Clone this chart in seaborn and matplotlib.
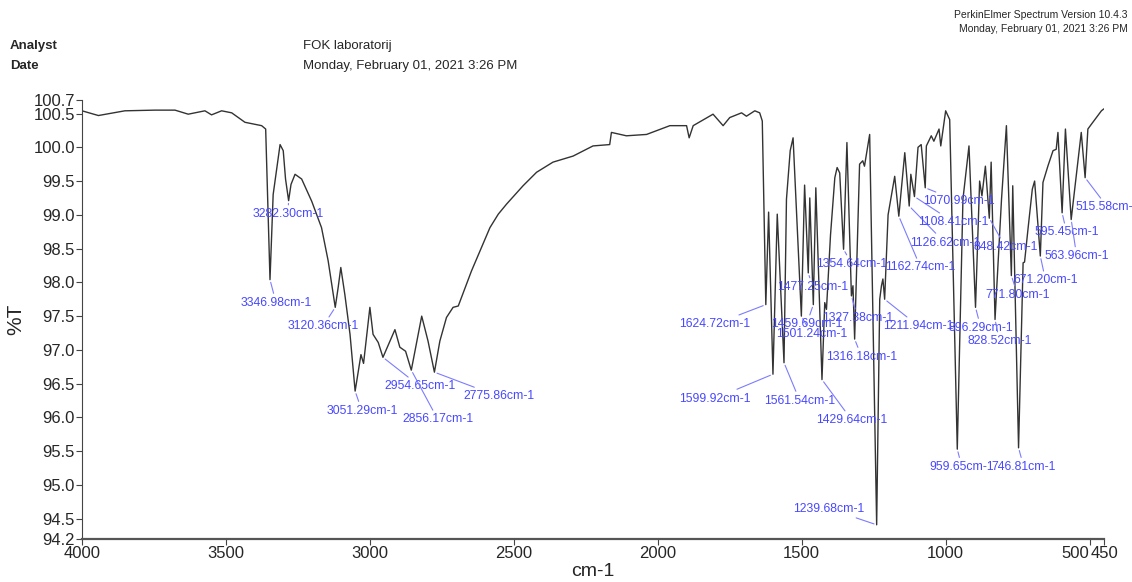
import numpy as np
import pandas as pd
import matplotlib
matplotlib.use('Agg')
import matplotlib.pyplot as plt
import seaborn as sns

# spectrum: wavenumber (cm-1) and %T
spec_wn = [4000, 3943, 3851, 3747, 3677, 3631, 3573, 3550, 3515, 3480, 3434, 3376, 3362,
           3346.98, 3336, 3312, 3301, 3293, 3282.30, 3274, 3260, 3237, 3202, 3168, 3145,
           3120.36, 3110, 3101, 3087, 3069, 3051.29, 3031, 3022, 3000, 2989, 2971, 2954.65,
           2913, 2896, 2876, 2856.17, 2820, 2798, 2775.86, 2757, 2734, 2711, 2693, 2647,
           2618, 2583, 2554, 2525, 2468, 2421, 2364, 2294, 2225, 2167, 2161, 2109, 2039,
           1958, 1900, 1891, 1877, 1808, 1773, 1750, 1709, 1692, 1663, 1646, 1637, 1624.72,
           1615, 1599.92, 1585, 1561.54, 1553, 1540, 1530, 1501.24, 1490, 1477.25, 1472,
           1459.69, 1451, 1429.64, 1420, 1414, 1400, 1385, 1377, 1368, 1354.64, 1343,
           1327.38, 1322, 1316.18, 1299, 1288, 1282, 1264, 1239.68, 1229, 1223, 1218,
           1211.94, 1200, 1177, 1162.74, 1142, 1126.62, 1121, 1108.41, 1096, 1085, 1070.99,
           1067, 1050, 1041, 1023, 1017, 1000, 986, 959.65, 940, 919, 896.29, 882, 874, 862,
           848.42, 842, 828.52, 806, 789, 771.80, 767, 746.81, 731, 726, 714, 699, 691,
           671.20, 662, 645, 627, 616, 610, 595.45, 584, 563.96, 529, 515.58, 506, 494, 459,
           450]
spec_T = [100.54, 100.47, 100.54, 100.55, 100.55, 100.49, 100.54, 100.48, 100.54, 100.51,
          100.37, 100.32, 100.27, 98.04, 99.30, 100.04, 99.95, 99.53, 99.21, 99.45, 99.60,
          99.53, 99.20, 98.81, 98.32, 97.63, 97.93, 98.22, 97.82, 97.23, 96.39, 96.93, 96.80,
          97.63, 97.23, 97.11, 96.89, 97.30, 97.04, 96.98, 96.70, 97.50, 97.13, 96.67, 97.13,
          97.48, 97.63, 97.65, 98.17, 98.46, 98.81, 99.01, 99.16, 99.43, 99.63, 99.78, 99.87,
          100.02, 100.04, 100.22, 100.17, 100.19, 100.32, 100.32, 100.14, 100.32, 100.49,
          100.32, 100.44, 100.51, 100.46, 100.54, 100.51, 100.39, 97.67, 99.04, 96.64, 99.01,
          96.81, 99.23, 99.95, 100.14, 97.50, 99.44, 98.14, 99.25, 97.67, 99.40, 96.56,
          97.70, 97.60, 98.70, 99.55, 99.70, 99.62, 98.49, 100.07, 97.80, 97.95, 97.16,
          99.75, 99.80, 99.72, 100.19, 94.41, 97.75, 97.95, 98.05, 97.75, 99.00, 99.57,
          98.98, 99.92, 99.13, 99.60, 99.27, 100.00, 100.04, 99.40, 100.02, 100.17, 100.09,
          100.27, 100.02, 100.54, 100.41, 95.53, 99.23, 100.02, 97.63, 99.50, 99.28, 99.72,
          98.95, 99.78, 97.45, 99.23, 100.32, 98.10, 99.43, 95.55, 98.29, 98.30, 98.79,
          99.38, 99.50, 98.39, 99.48, 99.72, 99.95, 99.97, 100.22, 99.03, 100.27, 98.93,
          100.22, 99.55, 100.27, 100.34, 100.54, 100.57]

# labelled peaks
peak_labels = ['3346.98', '3282.30', '3120.36', '3051.29', '2954.65', '2856.17', '2775.86',
               '1624.72', '1599.92', '1561.54', '1501.24', '1477.25', '1459.69', '1429.64',
               '1354.64', '1327.38', '1316.18', '1239.68', '1211.94', '1162.74', '1126.62',
               '1108.41', '1070.99', '959.65', '896.29', '848.42', '828.52', '771.80',
               '746.81', '671.20', '595.45', '563.96', '515.58']
peak_T = [98.04, 99.21, 97.63, 96.39, 96.89, 96.70, 96.67, 97.67, 96.64, 96.81, 97.50,
          98.14, 97.67, 96.56, 98.49, 97.80, 97.16, 94.41, 97.75, 98.98, 99.13, 99.27,
          99.40, 95.53, 97.63, 98.95, 97.45, 98.10, 95.55, 98.39, 99.03, 98.93, 99.55]

# where the label text sits (layout only)
label_pos = [(3326, 97.70), (3285, 99.01), (3163, 97.35), (3028, 96.10), (2826, 96.46),
             (2764, 95.97), (2552, 96.31), (1802, 97.38), (1802, 96.28), (1507, 96.25),
             (1465, 97.23), (1462, 97.93), (1483, 97.38), (1326, 95.96), (1326, 98.27),
             (1306, 97.47), (1292, 96.90), (1406, 94.65), (1094, 97.35), (1087, 98.22),
             (1003, 98.59), (972, 98.89), (953, 99.20), (944, 95.27), (878, 97.33),
             (792, 98.52), (813, 97.13), (750, 97.81), (729, 95.27), (653, 98.03),
             (580, 98.74), (545, 98.39), (549, 99.11)]

x_ticks = [4000, 3500, 3000, 2500, 2000, 1500, 1000, 500, 450]
y_ticks = [100.7, 100.5, 100.0, 99.5, 99.0, 98.5, 98.0, 97.5, 97.0, 96.5, 96.0, 95.5, 95.0, 94.5, 94.2]

sns.set_style('ticks')
plt.rcParams['font.family'] = ['Liberation Sans', 'DejaVu Sans']

fig = plt.figure(figsize=(11.32, 5.82), dpi=100)
ax = fig.add_axes([82 / 1132, 1 - 539 / 582, (1104 - 82) / 1132, (539 - 100) / 582])

df = pd.DataFrame({'wn': spec_wn, 'T': spec_T})
sns.lineplot(data=df, x='wn', y='T', sort=False, estimator=None, color='#333333',
             linewidth=1.0, ax=ax)

blue = '#4848ff'
for lab, pt, (tx, ty) in zip(peak_labels, peak_T, label_pos):
    ha = 'left' if lab == '515.58' else 'center'
    ax.annotate(lab + 'cm-1', xy=(float(lab), pt), xytext=(tx, ty), ha=ha, va='center',
                fontsize=8.8, color=blue, annotation_clip=False,
                arrowprops=dict(arrowstyle='-', color='#7c7cff', lw=0.8,
                                shrinkA=0, shrinkB=2))

ax.set_xlim(4000, 450)
ax.set_ylim(94.2, 100.7)
ax.set_xticks(x_ticks)
ax.set_xticklabels([str(v) for v in x_ticks], fontsize=12)
for t in ax.get_xticklabels():
    if t.get_text() == '500':
        t.set_ha('right')
ax.set_yticks(y_ticks)
ax.set_yticklabels([f'{v:.1f}' for v in y_ticks], fontsize=12)
ax.tick_params(axis='both', direction='out', length=4, width=0.8, color='#444444', pad=1)
ax.set_xlabel('cm-1', fontsize=14, va='center')
ax.xaxis.set_label_coords(0.5, -33 / 439)
ax.set_ylabel('%T', fontsize=15, labelpad=6)
sns.despine(ax=ax)
ax.spines['left'].set_color('#444444')
ax.spines['bottom'].set_color('#555555')
ax.spines['bottom'].set_linewidth(1.6)

# header block
fig.text(10 / 1132, 1 - 46 / 582, 'Analyst', fontsize=9.5, fontweight='bold', va='center')
fig.text(10 / 1132, 1 - 66 / 582, 'Date', fontsize=9.5, fontweight='bold', va='center')
fig.text(303 / 1132, 1 - 46 / 582, 'FOK laboratorij', fontsize=9.5, va='center')
fig.text(303 / 1132, 1 - 66 / 582, 'Monday, February 01, 2021 3:26 PM', fontsize=9.5, va='center')
fig.text(1128 / 1132, 1 - 15 / 582, 'PerkinElmer Spectrum Version 10.4.3', fontsize=7.5,
         ha='right', va='center')
fig.text(1128 / 1132, 1 - 29 / 582, 'Monday, February 01, 2021 3:26 PM', fontsize=7.5,
         ha='right', va='center')

fig.savefig('out.png', dpi=100)
